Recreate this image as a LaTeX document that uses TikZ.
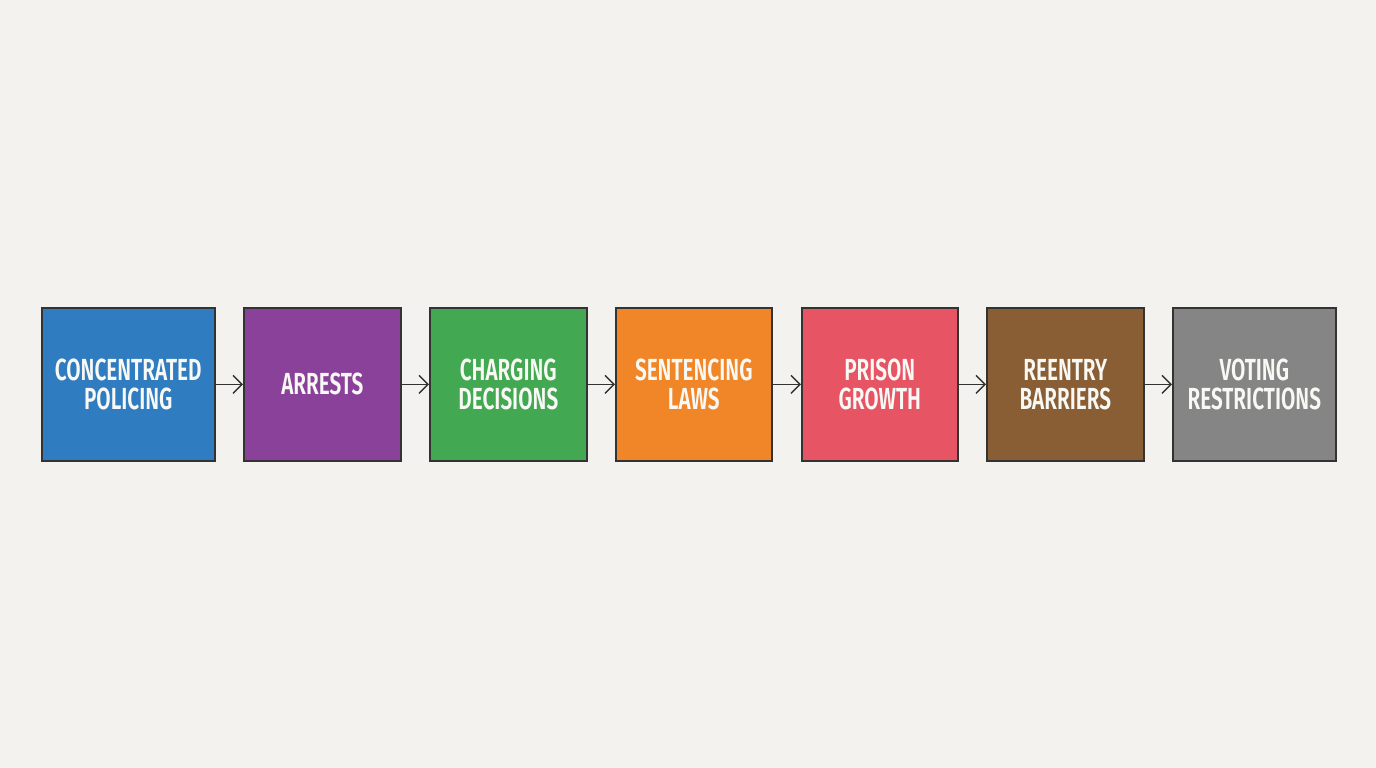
\documentclass[tikz,border=0pt]{standalone}
\usepackage{fontspec}
\setmainfont{Fira Sans}[FakeStretch=0.68,UprightFont=* SemiBold]
\usetikzlibrary{arrows.meta}
\definecolor{bg}{HTML}{F3F2EE}
\definecolor{cblue}{HTML}{2F7CC0}
\definecolor{cpurple}{HTML}{8A4199}
\definecolor{cgreen}{HTML}{42A952}
\definecolor{corange}{HTML}{F08628}
\definecolor{cred}{HTML}{E75565}
\definecolor{cbrown}{HTML}{8A5E35}
\definecolor{cgray}{HTML}{858585}
\definecolor{edge}{HTML}{333333}
\definecolor{txt}{HTML}{F8F8F4}
\tikzset{
  x=1pt,y=-1pt,
  stage/.style={draw=edge, line width=1.6pt, minimum height=153pt, inner sep=0pt,
    text=txt, font=\fontsize{30.5}{29}\selectfont, align=center, anchor=north west},
  flow/.style={draw=edge, line width=1.4pt, -{Straight Barb[length=9pt,width=18pt,line width=1.4pt]}}
}
\begin{document}
\begin{tikzpicture}
\fill[bg] (0,0) rectangle (1376,768);
\useasboundingbox (0,0) rectangle (1376,768);
\node[stage, fill=cblue, minimum width=173pt] (a) at (41,307) {CONCENTRATED\\POLICING};
\node[stage, fill=cpurple, minimum width=157pt] (b) at (243,307) {ARRESTS};
\node[stage, fill=cgreen, minimum width=157pt] (c) at (429,307) {CHARGING\\DECISIONS};
\node[stage, fill=corange, minimum width=156pt] (d) at (615,307) {SENTENCING\\LAWS};
\node[stage, fill=cred, minimum width=156pt] (e) at (801,307) {PRISON\\GROWTH};
\node[stage, fill=cbrown, minimum width=157pt] (f) at (986,307) {REENTRY\\BARRIERS};
\node[stage, fill=cgray, minimum width=163pt] (g) at (1172,307) {VOTING\\RESTRICTIONS};
\draw[flow] (a) -- (b);
\draw[flow] (b) -- (c);
\draw[flow] (c) -- (d);
\draw[flow] (d) -- (e);
\draw[flow] (e) -- (f);
\draw[flow] (f) -- (g);
\end{tikzpicture}
\end{document}
